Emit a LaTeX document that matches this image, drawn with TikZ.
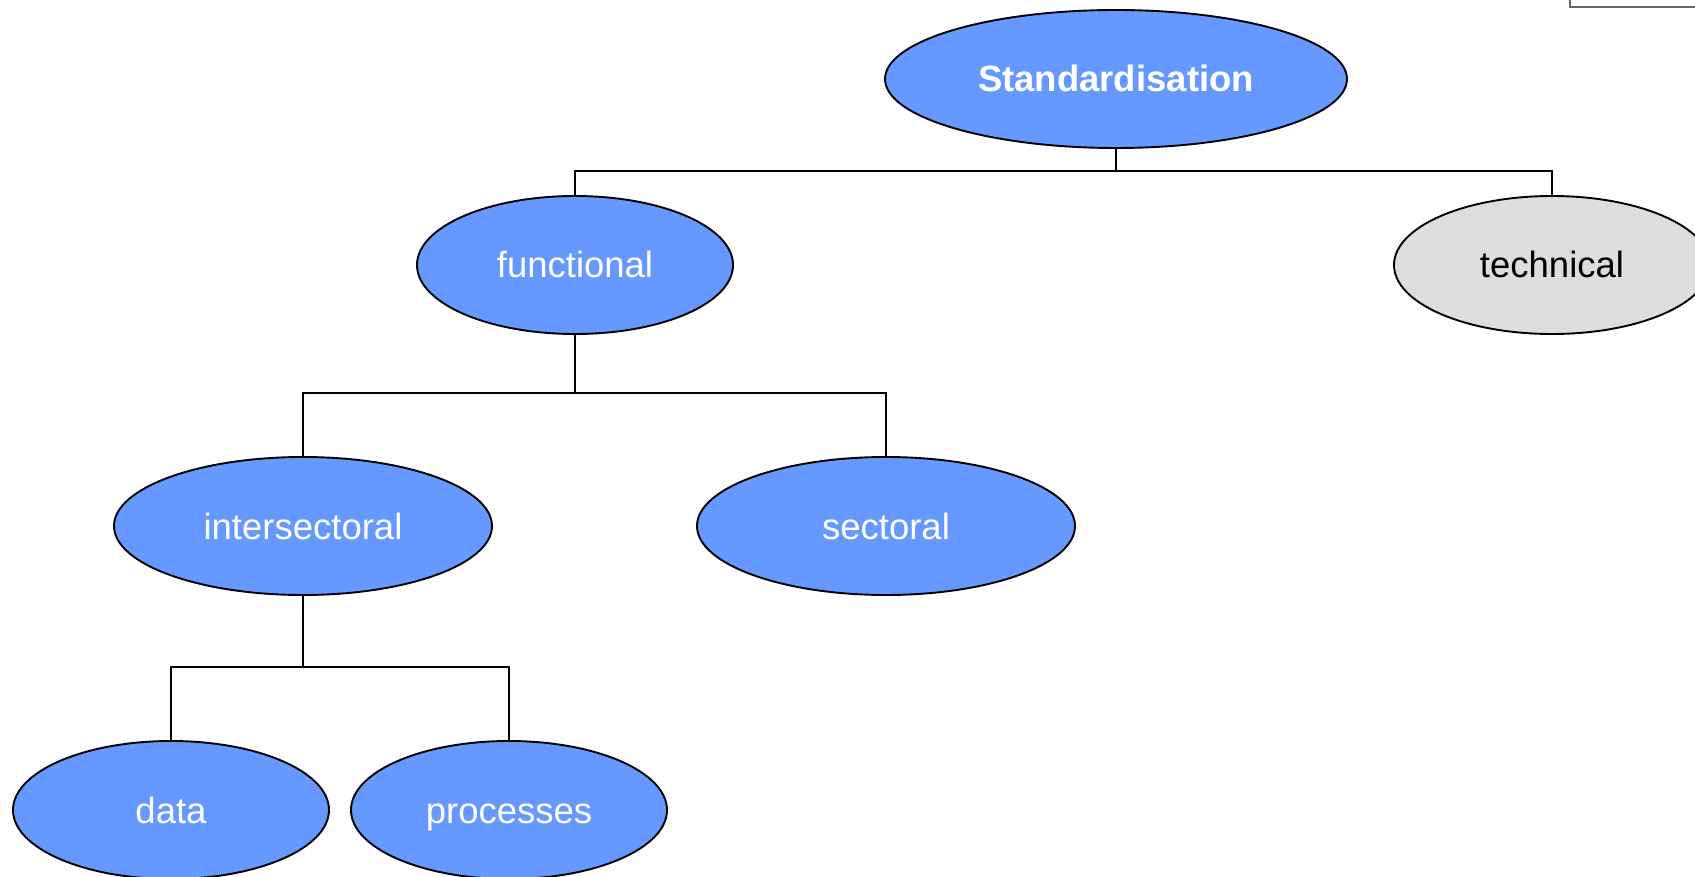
\documentclass[tikz,border=0pt]{standalone}
\usepackage{fontspec}
\setmainfont{Liberation Sans}
\usetikzlibrary{shapes.geometric}
\definecolor{nodeblue}{HTML}{6699FF}
\definecolor{nodegray}{HTML}{DDDDDD}
\definecolor{framegray}{HTML}{666666}
\tikzset{
  oval/.style={ellipse, draw=black, line width=1.9pt, inner sep=0pt,
    text height=34pt, text depth=8pt,
    font=\fontsize{36.5}{40}\selectfont},
  blueoval/.style={oval, fill=nodeblue, text=white},
  grayoval/.style={oval, fill=nodegray, text=black},
  lvlA/.style={minimum width=462pt, minimum height=138pt},
  lvlB/.style={minimum width=316pt, minimum height=138pt},
  lvlC/.style={minimum width=378pt, minimum height=138pt},
  link/.style={draw=black, line width=1.9pt},
}
\begin{document}
\begin{tikzpicture}[x=1pt, y=-1pt]
  \clip (0,0) rectangle (1695,877);
  \fill[white] (0,0) rectangle (1695,877);

  % partial frame at the top-right corner
  \draw[framegray, line width=2pt] (1570,-5) -- (1570,7) -- (1700,7);

  % nodes
  \node[blueoval, lvlA, font=\fontsize{36.5}{40}\selectfont\bfseries] (std) at (1116,79) {Standardisation};
  \node[blueoval, lvlB] (func) at (575,265) {functional};
  \node[grayoval, lvlB] (tech) at (1552,265) {technical};
  \node[blueoval, lvlC] (inter) at (303,526) {intersectoral};
  \node[blueoval, lvlC] (sect) at (886,526) {sectoral};
  \node[blueoval, lvlB] (data) at (171,810) {data};
  \node[blueoval, lvlB] (proc) at (509,810) {processes};

  % junction points of the tree connectors
  \coordinate (j1) at (1116,171);
  \coordinate (j2) at (575,393);
  \coordinate (j3) at (303,667);

  % connectors
  \draw[link] (std.south) -- (j1);
  \draw[link] (func.north) |- (j1) -| (tech.north);
  \draw[link] (func.south) -- (j2);
  \draw[link] (inter.north) |- (j2) -| (sect.north);
  \draw[link] (inter.south) -- (j3);
  \draw[link] (data.north) |- (j3) -| (proc.north);
\end{tikzpicture}
\end{document}
